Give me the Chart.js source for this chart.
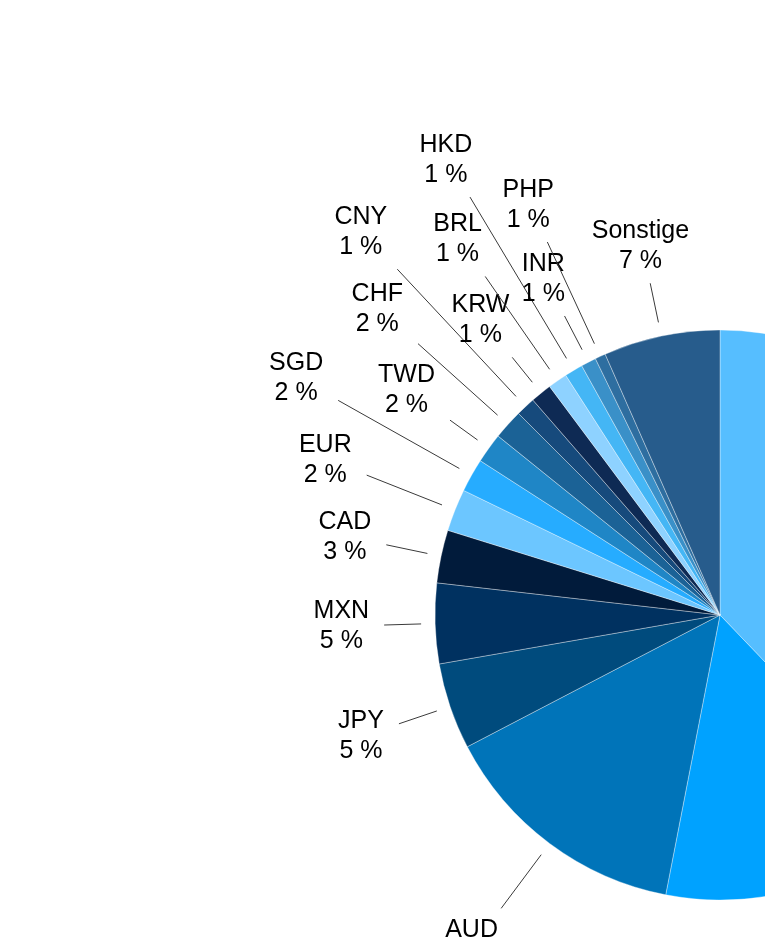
<!DOCTYPE html>
<html><head><meta charset="utf-8">
<script src="https://cdn.jsdelivr.net/npm/chart.js@4"></script>
<style>
html,body{margin:0;padding:0;width:765px;height:940px;overflow:hidden;background:#fff}
#wrap{position:absolute;left:0;top:0;width:1440px;height:1230px}
</style>
</head><body><div id="wrap"><canvas id="c" width="1440" height="1230"></canvas></div>
<script>
// Slices in clockwise order starting at 12 o'clock
const categories = ['USD','GBP','AUD','JPY','MXN','CAD','EUR','SGD','TWD','CHF','CNY','KRW','BRL','HKD','INR','PHP','Sonstige'];
const shares = [37.85,15.2,14.3,4.9,4.55,3.0,2.4,1.9,1.7,1.7,1.1,1.2,1.1,1.04,0.86,0.6,6.6];
const sliceColors = ['#56beff','#00a2ff','#0074b9','#004b7d','#003160','#011b3b','#6cc6ff','#26acff','#1f86c6','#1b6296','#164a7c','#0e2a54','#8ed2ff','#44b6f5','#3a90c8','#2e6ea0','#275c8c'];
// leader line length beyond the pie edge (label placement)
const labelDistance = [54,54,81,54,51,56,95,153,48,121,188,46,127,202,52,126,54];

const outsideLabels = {
  id: 'outsideLabels',
  afterDatasetsDraw(chart) {
    const ctx = chart.ctx;
    const meta = chart.getDatasetMeta(0);
    const total = shares.reduce((a, b) => a + b, 0);
    ctx.save();
    ctx.font = '25px "Liberation Sans", Arial, sans-serif';
    ctx.textAlign = 'center';
    ctx.textBaseline = 'alphabetic';
    meta.data.forEach((arc, i) => {
      const p = arc.getProps(['x', 'y', 'startAngle', 'endAngle', 'outerRadius'], true);
      const mid = (p.startAngle + p.endAngle) / 2;
      const ux = Math.cos(mid), uy = Math.sin(mid);
      const r0 = p.outerRadius + 14, r1 = p.outerRadius + labelDistance[i];
      const x0 = p.x + ux * r0, y0 = p.y + uy * r0;
      const x1 = p.x + ux * r1, y1 = p.y + uy * r1;
      ctx.strokeStyle = '#3a3a3a';
      ctx.lineWidth = 1;
      ctx.beginPath(); ctx.moveTo(x0, y0); ctx.lineTo(x1, y1); ctx.stroke();
      const name = categories[i];
      const pct = Math.round(shares[i] / total * 100) + ' %';
      const hw = Math.max(ctx.measureText(name).width, ctx.measureText(pct).width) / 2;
      const hh = 24, g = 13;
      const dx = Math.abs(ux) > 1e-6 ? (hw + g) / Math.abs(ux) : Infinity;
      const dy = Math.abs(uy) > 1e-6 ? (hh + g) / Math.abs(uy) : Infinity;
      const d = Math.min(dx, dy);
      const cx = x1 + ux * d - 2, cy = y1 + uy * d - 2;
      ctx.fillStyle = '#000';
      ctx.fillText(name, cx, cy - 6);
      ctx.fillText(pct, cx, cy + 24);
    });
    ctx.restore();
  }
};

new Chart(document.getElementById('c'), {
  type: 'pie',
  data: {
    labels: categories,
    datasets: [{
      data: shares,
      backgroundColor: sliceColors,
      borderColor: 'rgba(255,255,255,0.35)',
      borderWidth: 1,
      hoverOffset: 0,
      radius: 285
    }]
  },
  options: {
    responsive: false,
    devicePixelRatio: 1,
    animation: false,
    events: [],
    layout: { padding: 0 },
    plugins: { legend: { display: false }, tooltip: { enabled: false } }
  },
  plugins: [outsideLabels]
});
</script>
</body></html>
